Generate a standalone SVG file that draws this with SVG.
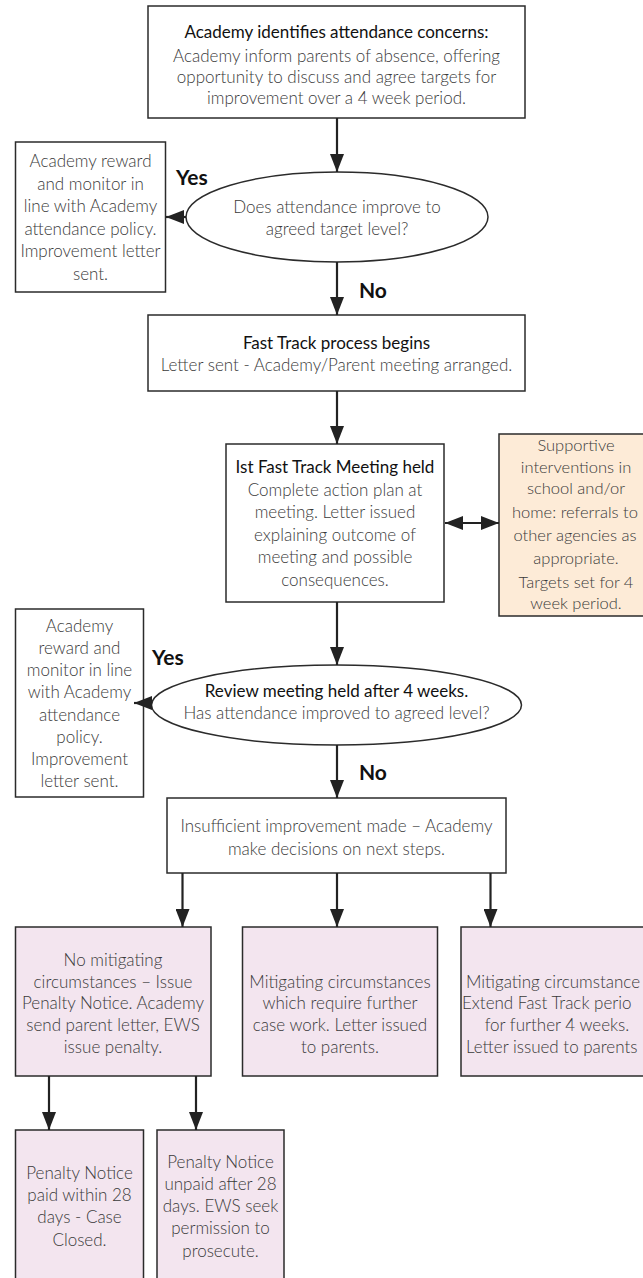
<svg xmlns="http://www.w3.org/2000/svg" width="643" height="1278" viewBox="0 0 643 1278">
<style>
.box{fill:#fff;stroke:#2b2b2b;stroke-width:1.5}
.pink{fill:#f3e5ef;stroke:#2b2b2b;stroke-width:1.5}
.peach{fill:#fdebd7;stroke:none}
.edge{fill:none;stroke:#2b2b2b;stroke-width:1.5}
.t{font-family:Lato,'Liberation Sans',sans-serif;font-size:17px;font-weight:300;fill:#3a3a3a;text-anchor:middle}
.h{font-weight:400;fill:#111}
.s{text-anchor:start}
.sm{font-size:16.5px}
.lbl{font-family:Lato,'Liberation Sans',sans-serif;font-size:21px;font-weight:700;fill:#111}
.c{stroke:#222;stroke-width:2.2;fill:none;marker-end:url(#ah)}
</style>
<defs>
<marker id="ah" markerUnits="userSpaceOnUse" markerWidth="18" markerHeight="14" viewBox="0 0 18 14" refX="18" refY="7" orient="auto-start-reverse">
<path d="M0,0 L18,7 L0,14 z" fill="#222"/>
</marker>
</defs>
<rect width="643" height="1278" fill="#fff"/>

<g id="n-start">
<rect class="box" x="148" y="6" width="377" height="112"/>
<text class="t h" x="336.5" y="38">Academy identifies attendance concerns:</text>
<text class="t" x="336.5" y="62">Academy inform parents of absence, offering</text>
<text class="t" x="336.5" y="83">opportunity to discuss and agree targets for</text>
<text class="t" x="336.5" y="104">improvement over a 4 week period.</text>
</g>

<g id="n-q1">
<ellipse class="box" cx="337" cy="217" rx="151" ry="45"/>
<text class="t" x="337" y="213">Does attendance improve to</text>
<text class="t" x="337" y="235">agreed target level?</text>
</g>

<g id="n-yes1">
<rect class="box" x="15.5" y="142" width="150" height="150"/>
<text class="t" x="90.5" y="167">Academy reward</text>
<text class="t" x="90.5" y="189.5">and monitor in</text>
<text class="t" x="90.5" y="212">line with Academy</text>
<text class="t" x="90.5" y="234.5">attendance policy.</text>
<text class="t" x="90.5" y="257">Improvement letter</text>
<text class="t" x="90.5" y="279.5">sent.</text>
</g>

<g id="n-fasttrack">
<rect class="box" x="148" y="315" width="377" height="76"/>
<text class="t h" x="336.5" y="349">Fast Track process begins</text>
<text class="t" x="336.5" y="371">Letter sent - Academy/Parent meeting arranged.</text>
</g>

<g id="n-meeting">
<rect class="box" x="226" y="444" width="218" height="158"/>
<text class="t h" x="335" y="473">Ist Fast Track Meeting held</text>
<text class="t" x="335" y="496">Complete action plan at</text>
<text class="t" x="335" y="518">meeting. Letter issued</text>
<text class="t" x="335" y="541">explaining outcome of</text>
<text class="t" x="335" y="563">meeting and possible</text>
<text class="t" x="335" y="586">consequences.</text>
</g>

<g id="n-support">
<rect class="peach" x="499" y="434" width="144" height="182"/>
<path class="edge" d="M643,434 H499 V616 H643"/>
<text class="t sm" x="576" y="451">Supportive</text>
<text class="t sm" x="576" y="473">interventions in</text>
<text class="t sm" x="576" y="494">school and/or</text>
<text class="t sm" x="575" y="518">home: referrals to</text>
<text class="t sm" x="575" y="541">other agencies as</text>
<text class="t sm" x="576" y="564">appropriate.</text>
<text class="t sm" x="576" y="588">Targets set for 4</text>
<text class="t sm" x="576" y="609">week period.</text>
</g>

<g id="n-review">
<ellipse class="box" cx="336.5" cy="705" rx="185" ry="40"/>
<text class="t h" x="336.5" y="697">Review meeting held after 4 weeks.</text>
<text class="t" x="336.5" y="719">Has attendance improved to agreed level?</text>
</g>

<g id="n-yes2">
<rect class="box" x="15.5" y="609" width="128" height="188"/>
<text class="t" x="79.5" y="632">Academy</text>
<text class="t" x="79.5" y="654">reward and</text>
<text class="t" x="79.5" y="676">monitor in line</text>
<text class="t" x="79.5" y="698">with Academy</text>
<text class="t" x="79.5" y="721">attendance</text>
<text class="t" x="79.5" y="743">policy.</text>
<text class="t" x="79.5" y="765">Improvement</text>
<text class="t" x="79.5" y="787">letter sent.</text>
</g>

<g id="n-insufficient">
<rect class="box" x="167" y="798" width="339" height="75"/>
<text class="t" x="336.5" y="832">Insufficient improvement made – Academy</text>
<text class="t" x="336.5" y="855">make decisions on next steps.</text>
</g>

<g id="n-penalty">
<rect class="pink" x="15.5" y="927" width="195.5" height="149"/>
<text class="t" x="113" y="966">No mitigating</text>
<text class="t" x="113" y="988">circumstances – Issue</text>
<text class="t" x="113" y="1009">Penalty Notice. Academy</text>
<text class="t" x="113" y="1031">send parent letter, EWS</text>
<text class="t" x="113" y="1053">issue penalty.</text>
</g>

<g id="n-casework">
<rect class="pink" x="242.5" y="927" width="195" height="149"/>
<text class="t" x="340" y="988">Mitigating circumstances</text>
<text class="t" x="340" y="1009">which require further</text>
<text class="t" x="340" y="1031">case work. Letter issued</text>
<text class="t" x="340" y="1053">to parents.</text>
</g>

<g id="n-extend">
<rect fill="#f3e5ef" x="461" y="927" width="182" height="149"/>
<path class="edge" d="M643,927 H461 V1076 H643"/>
<text class="t s" x="466" y="988">Mitigating circumstance</text>
<text class="t s" x="462" y="1009">Extend Fast Track perio</text>
<text class="t" x="557" y="1031">for further 4 weeks.</text>
<text class="t s" x="466" y="1053">Letter issued to parents</text>
</g>

<g id="n-paid">
<rect fill="#f3e5ef" x="15.5" y="1130" width="128" height="148"/>
<path class="edge" d="M15.5,1278 V1130 H143.5 V1278"/>
<text class="t" x="79.5" y="1179">Penalty Notice</text>
<text class="t" x="79.5" y="1201">paid within 28</text>
<text class="t" x="79.5" y="1223">days - Case</text>
<text class="t" x="79.5" y="1246">Closed.</text>
</g>

<g id="n-unpaid">
<rect fill="#f3e5ef" x="157" y="1130" width="127" height="148"/>
<path class="edge" d="M157,1278 V1130 H284 V1278"/>
<text class="t" x="220.5" y="1168">Penalty Notice</text>
<text class="t" x="220.5" y="1190">unpaid after 28</text>
<text class="t" x="220.5" y="1212">days. EWS seek</text>
<text class="t" x="220.5" y="1234">permission to</text>
<text class="t" x="220.5" y="1257">prosecute.</text>
</g>

<g id="connectors">
<line class="c" x1="337" y1="118" x2="337" y2="172"/>
<line class="c" x1="186" y1="217" x2="166" y2="217"/>
<line class="c" x1="337" y1="262" x2="337" y2="315"/>
<line class="c" x1="337" y1="391" x2="337" y2="444"/>
<line class="c" x1="445" y1="523" x2="499" y2="523" style="marker-start:url(#ah)"/>
<line class="c" x1="337" y1="602" x2="337" y2="665"/>
<line class="c" x1="152" y1="703" x2="134" y2="703"/>
<line class="c" x1="337" y1="745" x2="337" y2="798"/>
<line class="c" x1="182.5" y1="873" x2="182.5" y2="927"/>
<line class="c" x1="337" y1="873" x2="337" y2="927"/>
<line class="c" x1="490.5" y1="873" x2="490.5" y2="927"/>
<line class="c" x1="49" y1="1076" x2="49" y2="1130"/>
<line class="c" x1="196" y1="1076" x2="196" y2="1130"/>
<text class="lbl" x="176" y="185">Yes</text>
<text class="lbl" x="359" y="298">No</text>
<text class="lbl" x="152" y="665">Yes</text>
<text class="lbl" x="359" y="780">No</text>
</g>
</svg>
